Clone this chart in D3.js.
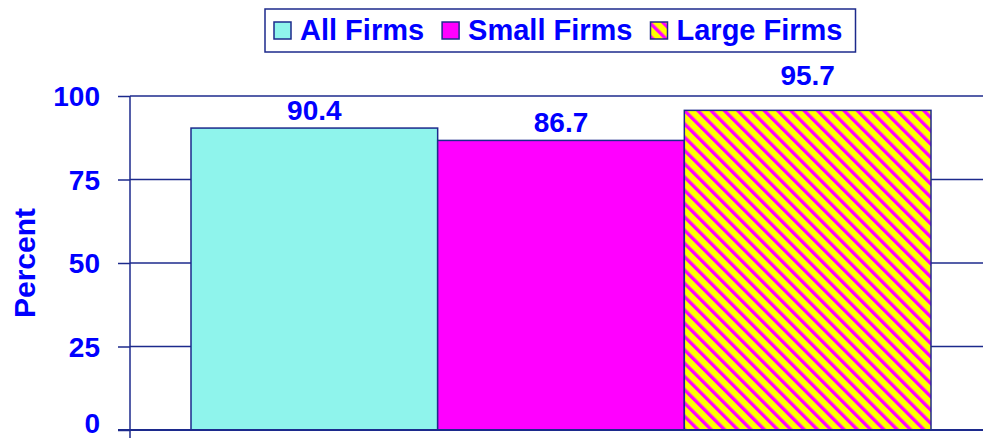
<!DOCTYPE html>
<html>
<head>
<meta charset="utf-8">
<script src="https://cdn.jsdelivr.net/npm/d3@7"></script>
<style>
  html, body { margin: 0; padding: 0; background: #ffffff; }
  svg { display: block; }
  text { font-family: "Liberation Sans", Arial, sans-serif; font-weight: bold; }
</style>
</head>
<body>
<svg id="chart" width="983" height="440"></svg>
<script>
// ---- data ----
const categories = ["All Firms", "Small Firms", "Large Firms"];
const values = [90.4, 86.7, 95.7];
const yTicks = [0, 25, 50, 75, 100];
const yLabel = "Percent";

// ---- style ----
const W = 983, H = 440;
const navy = "#1c2a8c";
const blue = "#0000ff";
const fills = ["#8ff4ec", "#ff00ff", "url(#hatch)"];

const svg = d3.select("#chart");
const defs = svg.append("defs");
const pat = defs.append("pattern")
  .attr("id", "hatch")
  .attr("patternUnits", "userSpaceOnUse")
  .attr("width", 9.4).attr("height", 9.4)
  .attr("patternTransform", "rotate(-45)");
pat.append("rect").attr("width", 9.4).attr("height", 9.4).attr("fill", "#ffff00");
pat.append("rect").attr("x", 0).attr("width", 3.3).attr("height", 9.4).attr("fill", "#ff00ff");

const axisX = 130, plotRight = W;
const y = d3.scaleLinear().domain([0, 100]).range([430, 96]);
const x = d3.scaleBand().domain(categories).range([191, 931]).padding(0);

// gridlines
svg.append("g").selectAll("line").data(yTicks.filter(t => t > 0)).join("line")
  .attr("x1", axisX).attr("x2", plotRight)
  .attr("y1", d => y(d)).attr("y2", d => y(d))
  .attr("stroke", navy).attr("stroke-width", 1.5);

// y axis with ticks
const yAxis = d3.axisLeft(y).tickValues(yTicks).tickSize(12).tickPadding(18);
const gy = svg.append("g").attr("transform", `translate(${axisX},0)`).call(yAxis);
gy.select(".domain").remove();
gy.selectAll(".tick line").attr("stroke", navy).attr("stroke-width", 1.5);
gy.selectAll(".tick text")
  .attr("fill", blue).style("font-size", "28px")
  .attr("dy", d => d === 0 ? "0.1em" : "0.34em")
  .style("font-family", "'Liberation Sans', Arial, sans-serif").style("font-weight", "bold");
svg.append("line")
  .attr("x1", axisX).attr("x2", axisX).attr("y1", y(100)).attr("y2", y(0) + 8)
  .attr("stroke", navy).attr("stroke-width", 1.5);

// bars
const data = categories.map((c, i) => ({ c, v: values[i], f: fills[i] }));
svg.append("g").selectAll("rect").data(data).join("rect")
  .attr("x", d => x(d.c)).attr("width", x.bandwidth())
  .attr("y", d => y(d.v)).attr("height", d => y(0) - y(d.v))
  .attr("fill", d => d.f)
  .attr("stroke", navy).attr("stroke-width", 1.5);

// baseline
svg.append("line")
  .attr("x1", axisX - 12).attr("x2", plotRight).attr("y1", y(0)).attr("y2", y(0))
  .attr("stroke", navy).attr("stroke-width", 2);

// value labels
svg.append("g").selectAll("text").data(data).join("text")
  .attr("x", d => x(d.c) + x.bandwidth() / 2)
  .attr("y", d => {
    const b = y(d.v) - 8;
    return (b - 20 < y(100)) ? y(100) - 11 : b;
  })
  .attr("text-anchor", "middle")
  .attr("fill", blue).style("font-size", "28px")
  .text(d => d.v.toFixed(1));

// y label
svg.append("text")
  .attr("transform", `translate(35,${(y(0) + y(100)) / 2}) rotate(-90)`)
  .attr("text-anchor", "middle")
  .attr("fill", blue).style("font-size", "30px")
  .text(yLabel);

// legend
const lg = svg.append("g");
const box = lg.append("rect")
  .attr("fill", "#fff").attr("stroke", navy).attr("stroke-width", 1.5);
let cx = 274;
const legendY = 22;
data.forEach(d => {
  lg.append("rect").attr("x", cx).attr("y", legendY).attr("width", 17).attr("height", 17)
    .attr("fill", d.f).attr("stroke", navy).attr("stroke-width", 1.5);
  const t = lg.append("text").attr("x", cx + 26).attr("y", 40)
    .attr("fill", blue).style("font-size", "29px").text(d.c);
  cx += 26 + t.node().getComputedTextLength() + 18;
});
box.attr("x", 265).attr("y", 9).attr("width", cx - 18 + 13 - 265).attr("height", 43);
</script>
</body>
</html>
